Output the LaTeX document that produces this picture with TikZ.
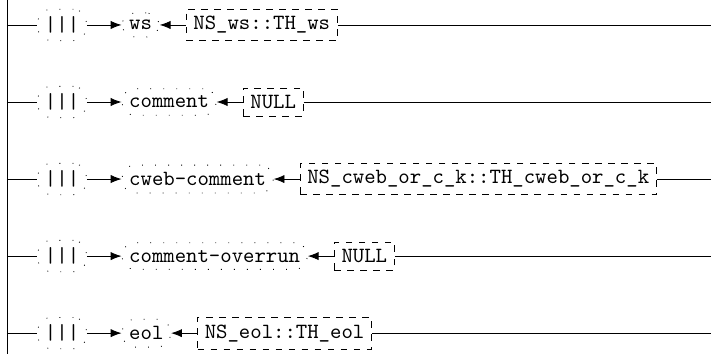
\documentclass[tikz,border=0pt]{standalone}
\usetikzlibrary{positioning,arrows.meta}
\begin{document}
\begin{tikzpicture}
%styles des noeuds
\tikzstyle{alt}=[rectangle, draw, rounded corners=6pt, dash pattern=on 0.4pt off 5.6pt, font=\ttfamily]
\tikzstyle{tok}=[rectangle, draw, rounded corners=6pt, dash pattern=on 0.4pt off 5.6pt, font=\ttfamily]
\tikzstyle{sem}=[rectangle, draw, dashed, font=\ttfamily]
%cadre
\useasboundingbox (0pt,0pt) rectangle (327.6pt,-163pt);
\coordinate (top) at (3.2pt,0pt);
\coordinate (bot) at (3.2pt,-163pt);
\draw (top) -- (bot);
%entrees et sorties
\coordinate (in1) at (3.2pt,-11.5pt);
\coordinate (in2) at (3.2pt,-47pt);
\coordinate (in3) at (3.2pt,-82.5pt);
\coordinate (in4) at (3.2pt,-118pt);
\coordinate (in5) at (3.2pt,-153.5pt);
\coordinate (out1) at (327.6pt,-11.5pt);
\coordinate (out2) at (327.6pt,-47pt);
\coordinate (out3) at (327.6pt,-82.5pt);
\coordinate (out4) at (327.6pt,-118pt);
\coordinate (out5) at (327.6pt,-153.5pt);
%nodes
\node[alt] (bar1) at (28.6pt,-11.5pt) {|||};
\node[alt] (bar2) at (28.6pt,-47pt) {|||};
\node[alt] (bar3) at (28.6pt,-82.5pt) {|||};
\node[alt] (bar4) at (28.6pt,-118pt) {|||};
\node[alt] (bar5) at (28.6pt,-153.5pt) {|||};

\node[tok, right=16pt of bar1] (tok1) {ws};
\node[tok, right=16pt of bar2] (tok2) {comment};
\node[tok, right=16pt of bar3] (tok3) {cweb-comment};
\node[tok, right=16pt of bar4] (tok4) {comment-overrun};
\node[tok, right=16pt of bar5] (tok5) {eol};

\node[sem, right=12pt of tok1] (sem1) {NS\_ws::TH\_ws};
\node[sem, right=12pt of tok2] (sem2) {NULL};
\node[sem, right=12pt of tok3] (sem3) {NS\_cweb\_or\_c\_k::TH\_cweb\_or\_c\_k};
\node[sem, right=12pt of tok4] (sem4) {NULL};
\node[sem, right=12pt of tok5] (sem5) {NS\_eol::TH\_eol};

%vecteurs
\tikzstyle{vecteur}=[-{Latex[length=5pt,width=3.8pt]}]
\draw (in1) -- (bar1);
\draw (in2) -- (bar2);
\draw (in3) -- (bar3);
\draw (in4) -- (bar4);
\draw (in5) -- (bar5);
\draw[vecteur] (bar1) -- (tok1);
\draw[vecteur] (bar2) -- (tok2);
\draw[vecteur] (bar3) -- (tok3);
\draw[vecteur] (bar4) -- (tok4);
\draw[vecteur] (bar5) -- (tok5);
\draw[vecteur] (sem1) -- (tok1);
\draw[vecteur] (sem2) -- (tok2);
\draw[vecteur] (sem3) -- (tok3);
\draw[vecteur] (sem4) -- (tok4);
\draw[vecteur] (sem5) -- (tok5);
\draw (sem1) -- (out1);
\draw (sem2) -- (out2);
\draw (sem3) -- (out3);
\draw (sem4) -- (out4);
\draw (sem5) -- (out5);
\end{tikzpicture}
\end{document}
